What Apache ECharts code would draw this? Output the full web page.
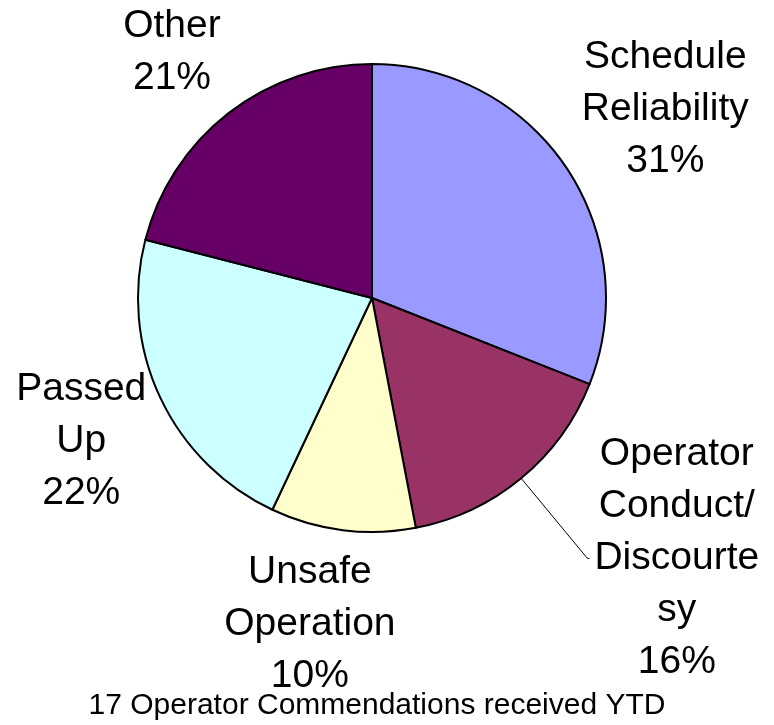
<!DOCTYPE html>
<html>
<head>
<meta charset="utf-8">
<script src="https://cdn.jsdelivr.net/npm/echarts@6/dist/echarts.min.js"></script>
<style>
  html, body { margin: 0; padding: 0; background: #fff; }
  #chart { width: 774px; height: 725px; }
</style>
</head>
<body>
<div id="chart"></div>
<script>
// data (percent of complaints, clockwise from 12 o'clock)
var categories = ['Schedule Reliability', 'Operator Conduct/Discourtesy', 'Unsafe Operation', 'Passed Up', 'Other'];
var shares = [31, 16, 10, 22, 21];
// how the labels wrap in the original
var labelText = ['Schedule\nReliability', 'Operator\nConduct/\nDiscourte\nsy', 'Unsafe\nOperation', 'Passed\nUp', 'Other'];
var titleText = '17 Operator Commendations received YTD';

// styles
var colors = ['#9999FF', '#993366', '#FFFFCC', '#CCFFFF', '#660066'];
var leaderSlice = 'Operator Conduct/Discourtesy';   // the only label drawn with a leader line
var nudge = [[22, -4], [0, 0], [-21, 1], [6, 4], [1, 13]];
var font = '"Liberation Sans", Arial, sans-serif';

var fmt = function (p) {
    var lines = labelText[p.dataIndex].split('\n');
    lines.push(Math.round(p.percent) + '%');
    return lines.map(function (s) { return '{c|' + s + '}'; }).join('\n');
};
var rich = { c: { align: 'center', fontSize: 39, lineHeight: 52, fontFamily: font, color: '#000' } };

var mainData = categories.map(function (name, i) {
    var d = { name: name, value: shares[i], itemStyle: { color: colors[i] } };
    if (name === leaderSlice) {
        d.label = { show: true };
        d.labelLine = { show: true };
    }
    return d;
});

// invisible ring, used only to place the other labels centred beyond the pie
var labelData = categories.map(function (name, i) {
    return { name: name, value: shares[i], label: { show: name !== leaderSlice } };
});

var chart = echarts.init(document.getElementById('chart'));
chart.setOption({
    animation: false,
    backgroundColor: '#fff',
    title: {
        text: titleText,
        left: 377,
        textAlign: 'center',
        top: 691,
        padding: 0,
        textStyle: { fontFamily: font, fontSize: 30, fontWeight: 'normal', color: '#000' }
    },
    series: [
        {
            type: 'pie',
            center: [372, 298],
            radius: 234,
            startAngle: 90,
            clockwise: true,
            avoidLabelOverlap: false,
            silent: true,
            itemStyle: { borderColor: '#000', borderWidth: 2 },
            label: { show: false, position: 'outside', formatter: fmt, rich: rich, distanceToLabelLine: 5 },
            labelLine: { show: false, length: 104, length2: 2, smooth: false, lineStyle: { color: '#000', width: 1 } },
            data: mainData
        },
        {
            type: 'pie',
            center: [372, 298],
            radius: [0, 650],
            startAngle: 90,
            clockwise: true,
            avoidLabelOverlap: false,
            silent: true,
            z: 3,
            itemStyle: { color: 'rgba(0,0,0,0)', borderWidth: 0 },
            label: { position: 'inside', formatter: fmt, rich: rich },
            labelLine: { show: false },
            labelLayout: function (p) {
                return { dx: nudge[p.dataIndex][0], dy: nudge[p.dataIndex][1] };
            },
            data: labelData
        }
    ]
});
</script>
</body>
</html>
